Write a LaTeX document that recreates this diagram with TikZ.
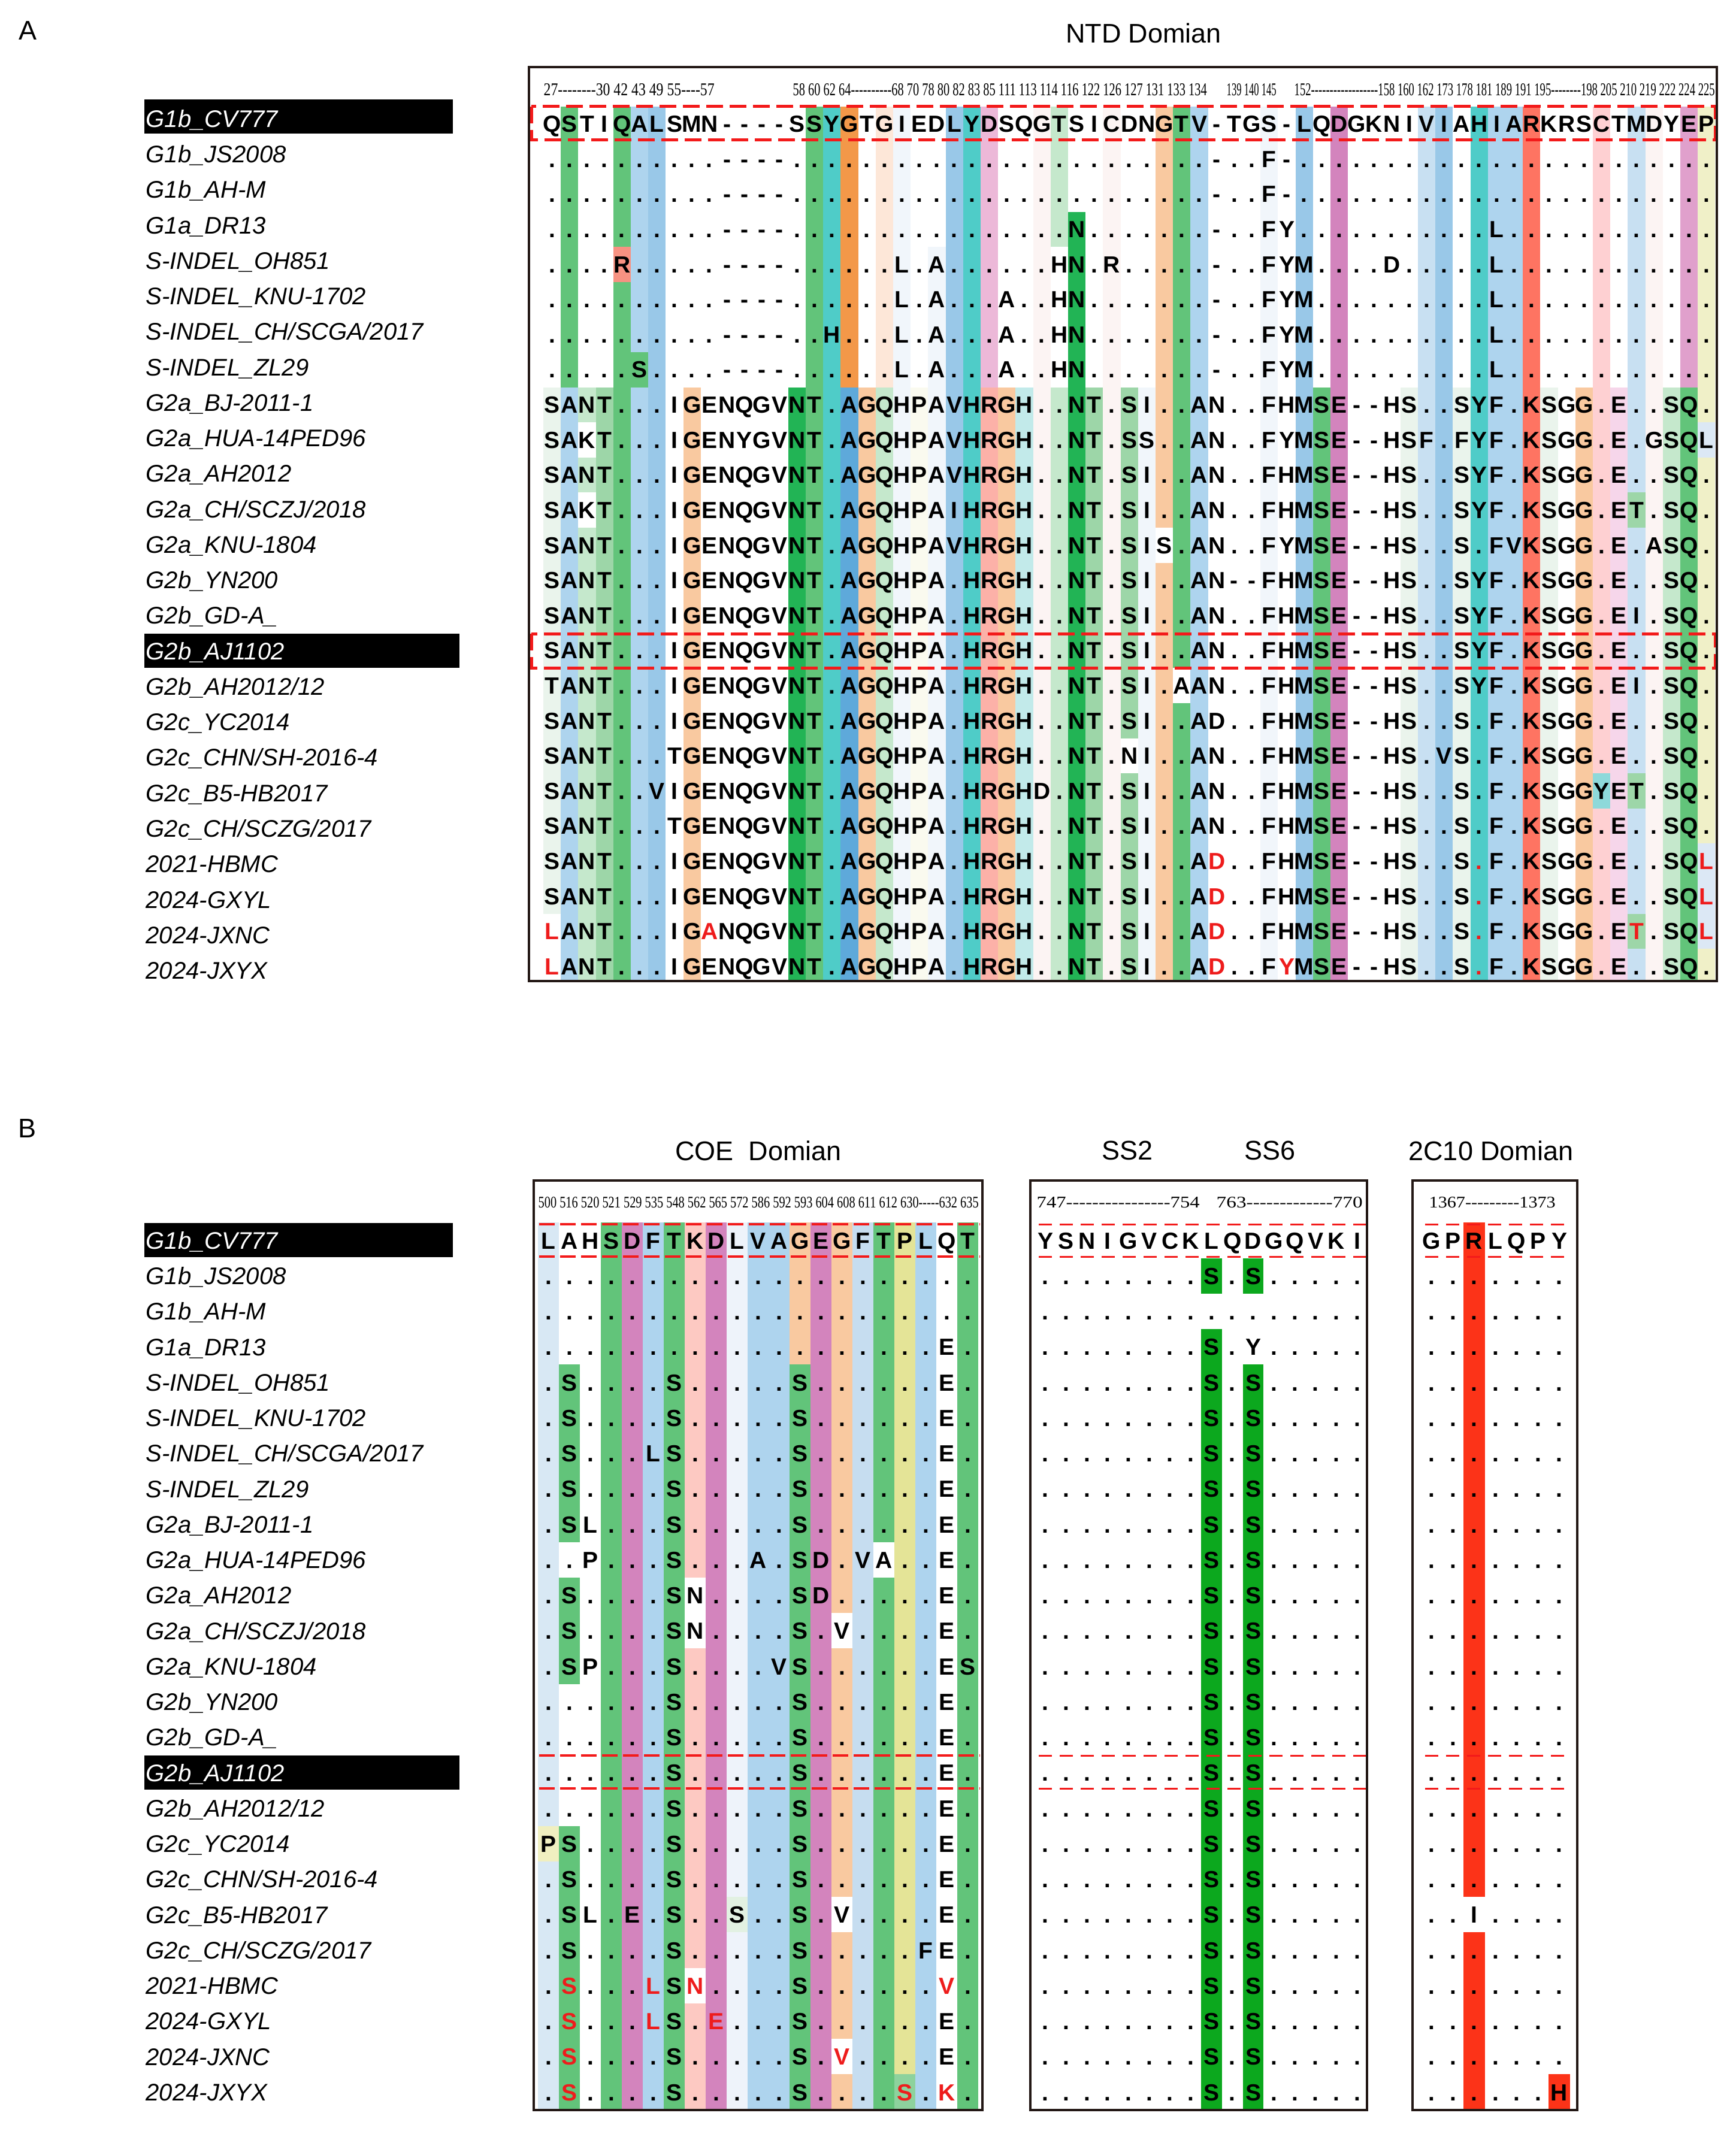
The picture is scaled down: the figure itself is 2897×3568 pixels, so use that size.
\documentclass[tikz,border=0pt]{standalone}
\usepackage{graphicx}
\usepackage{fontspec}
\setmainfont{Liberation Sans}
\newfontfamily\numfont{Liberation Serif}

\definecolor{cGrn}{HTML}{62C47A}
\definecolor{cDg}{HTML}{22B455}
\definecolor{cMg}{HTML}{9DD6A8}
\definecolor{cLg}{HTML}{C5E8CC}
\definecolor{cPg}{HTML}{EAF4EC}
\definecolor{cBl}{HTML}{99C8E8}
\definecolor{cLb}{HTML}{AED4EE}
\definecolor{cPb}{HTML}{C8E0F2}
\definecolor{cFb}{HTML}{F1F6FB}
\definecolor{cSb}{HTML}{5EA9DA}
\definecolor{cTl}{HTML}{4FCCC8}
\definecolor{cOr}{HTML}{F39849}
\definecolor{cPc}{HTML}{F9C9A0}
\definecolor{cLp}{HTML}{FDE7D8}
\definecolor{cPk}{HTML}{ECB8D8}
\definecolor{cMb}{HTML}{D384BD}
\definecolor{cSa}{HTML}{FCB1A8}
\definecolor{cRo}{HTML}{FED0D2}
\definecolor{cCo}{HTML}{FE7462}
\definecolor{cLc}{HTML}{C2EAEA}
\definecolor{cYe}{HTML}{F0F0C8}
\definecolor{cFp}{HTML}{FCF4F3}
\definecolor{cSr}{HTML}{F79282}
\definecolor{cTq}{HTML}{8ED9DA}
\definecolor{cLk}{HTML}{F6D6EA}
\definecolor{cMp}{HTML}{E0A0CC}
\definecolor{cLy}{HTML}{DCE8F5}
\definecolor{cFy}{HTML}{FAFAEF}
\definecolor{cB1}{HTML}{D8E8F4}
\definecolor{cBy}{HTML}{F0EFC0}
\definecolor{cBk}{HTML}{FDC9C2}
\definecolor{cBf}{HTML}{EEF3FA}
\definecolor{cBg}{HTML}{E2F1E2}
\definecolor{cBp}{HTML}{C6DDF0}
\definecolor{cBw}{HTML}{E4E497}
\definecolor{cBm}{HTML}{8DD29D}
\definecolor{cSs}{HTML}{0CA81E}
\definecolor{cRb}{HTML}{FC3318}
\definecolor{cTxt}{HTML}{EE1C1C}
\definecolor{cDash}{HTML}{F31A1A}
\definecolor{cLine}{HTML}{231815}

\newlength\pxu
\setlength\pxu{0.1mm}
\newcommand\resfont{\fontsize{11.1pt}{13pt}\selectfont\bfseries}
\newcommand\labfont{\fontsize{11.4pt}{13pt}\selectfont\itshape}
\newcommand\ttlfont{\fontsize{12.8pt}{15pt}\selectfont}

\makeatletter
\newcommand\resput[1]{\ifnum`#1>96 \textcolor{cTxt}{\uppercase{#1}}\else\ifx*#1\textcolor{cTxt}{.}\else#1\fi\fi}
\newcommand\seqrow[5]{%
  \def\seqx{#2}\def\seqk{0}%
  \@tfor\seqch:=#5\do{%
    \pgfmathtruncatemacro\seqk{\seqk+1}%
    \node[res] (#1c\seqk) at (\seqx,#4) {\expandafter\resput\seqch};%
    \pgfmathsetmacro\seqx{\seqx+#3}}}
\makeatother
\newcommand\arow[2]{\pgfmathsetmacro\yy{220.8+58.6*(#1-1)}\seqrow{a#1}{921.6}{29.2}{\yy}{#2}}
\newcommand\brow[4]{\pgfmathsetmacro\yy{2085+59.25*(#1-1)}%
  \seqrow{bc#1}{915.5}{35}{\yy}{#2}%
  \seqrow{bs#1}{1745}{34.7}{\yy}{#3}%
  \seqrow{bt#1}{2390}{35.5}{\yy}{#4}}

\begin{document}
\begin{tikzpicture}[x=0.1mm,y=-0.1mm,
  res/.style={anchor=base,inner sep=0pt,font=\resfont},
  lab/.style={anchor=base west,inner sep=0pt,font=\labfont},
  hdr/.style={anchor=base west,inner sep=0pt,font=\numfont},
  ttl/.style={inner sep=0pt,font=\ttlfont},
  frame/.style={draw=cLine,line width=0.4mm},
  cutA/.style={draw=cDash,line width=0.5mm,dash pattern=on 2.8mm off 1.1mm},
  cutB/.style={draw=cDash,line width=0.45mm,dash pattern=on 2.6mm off 0.9mm},
  cutC/.style={draw=cDash,line width=0.3mm,dash pattern=on 2.2mm off 1.3mm}]
	\useasboundingbox (0,0) rectangle (2897,3568);
	\fill[white] (0,0) rectangle (2897,3568);

	\node[ttl] (pA) at (47,51) {A};
	\node[ttl] (pB) at (46,1884) {B};
	\node[ttl] (tNTD) at (1909,55) {NTD Domian};
	\node[ttl] (tCOE) at (1266,1921) {COE~ Domian};
	\node[ttl] (tSS2) at (1882,1921) {SS2};
	\node[ttl] (tSS6) at (2120,1921) {SS6};
	\node[ttl] (t2C) at (2489,1921) {2C10 Domian};

	% NTD panel
	\begin{scope}
	\clip (883,112) rectangle (2866,1638);
	\foreach \c/\a/\b/\f in {1/9/23/cPg, 2/1/8/cGrn, 2/9/25/cLb, 3/9/9/cLg, 3/11/11/cLg, 3/13/25/cLg,
		4/9/25/cMg, 5/1/4/cGrn, 5/5/5/cSr, 5/6/25/cGrn, 6/1/7/cLb, 6/8/8/cGrn, 6/9/25/cLb,
		7/1/25/cBl, 9/9/25/cPc, 15/9/25/cDg, 16/1/25/cGrn, 17/1/25/cTl, 18/1/8/cOr, 18/9/25/cSb,
		19/9/25/cPc, 20/1/8/cLp, 20/9/25/cLg, 21/1/25/cFb, 22/9/25/cFy, 23/5/25/cFb,
		24/1/25/cBl, 25/1/25/cTl, 26/1/8/cPk, 26/9/25/cSa, 27/9/25/cPc, 28/9/25/cLc,
		29/1/25/cFp, 30/1/4/cLg, 30/9/25/cLg, 31/4/25/cDg, 32/9/25/cMg, 33/1/25/cFp,
		34/9/18/cMg, 34/20/25/cMg, 35/9/25/cFb, 36/1/12/cPc, 36/14/25/cPc,
		37/1/16/cGrn, 37/18/25/cGrn, 38/1/25/cLb, 42/1/25/cFb, 44/1/25/cBl, 45/9/25/cGrn,
		46/1/25/cMb, 50/9/25/cPg, 51/1/25/cPb, 52/1/25/cBl, 53/9/25/cPg, 54/1/25/cTl,
		55/1/25/cLb, 56/1/25/cLb, 57/1/25/cCo, 58/9/25/cPg, 60/9/25/cPc,
		61/1/19/cRo, 61/20/20/cTq, 61/21/25/cRo, 62/9/25/cLk,
		63/1/11/cPb, 63/12/12/cMg, 63/13/19/cPb, 63/20/20/cMg, 63/21/23/cPb, 63/24/24/cMg, 63/25/25/cPb,
		64/1/25/cFp, 65/9/25/cLg, 66/1/8/cMp, 66/9/25/cGrn,
		67/1/9/cYe, 67/10/10/cLy, 67/11/21/cYe, 67/22/24/cLy, 67/25/25/cYe}
	{
		\fill[fill=\f] ({907+29.2*(\c-1)},{177.8+58.6*(\a-1)}) rectangle ({907+29.2*\c},{177.8+58.6*\b});
	}
	\end{scope}
	\draw[cutA] (887,178) rectangle (2863,234);
	\draw[cutA] (887,1058) rectangle (2863,1115);
	\draw[frame] (883,112) rectangle (2866,1638);

	\node[hdr] (hA1) at (907,160) {\resizebox{285\pxu}{20\pxu}{27--------30 42 43 49 55----57}};
	\node[hdr] (hA2) at (1323,160) {\resizebox{691\pxu}{20\pxu}{58 60 62 64----------68 70 78 80 82 83 85 111 113 114 116 122 126 127 131 133 134}};
	\node[hdr] (hA3) at (2047,160) {\resizebox{83\pxu}{20\pxu}{139 140 145}};
	\node[hdr] (hA4) at (2160,160) {\resizebox{702\pxu}{20\pxu}{152------------------158 160 162 173 178 181 189 191 195--------198 205 210 219 222 224 225}};

	\arow{1}{QSTIQALSMN----SSYGTGIEDLYDSQGTSICDNGTV-TGS-LQDGKNIVIAHIARKRSCTMDYEP}
	\arow{2}{..........----........................-..F-........................}
	\arow{3}{..........----........................-..F-........................}
	\arow{4}{..........----................N.......-..FY...........L............}
	\arow{5}{....R.....----......L.A......HN.R.....-..FYM....D.....L............}
	\arow{6}{..........----......L.A...A..HN.......-..FYM..........L............}
	\arow{7}{..........----..H...L.A...A..HN.......-..FYM..........L............}
	\arow{8}{.....S....----......L.A...A..HN.......-..FYM..........L............}
	\arow{9}{SANT...IGENQGVNT.AGQHPAVHRGH..NT.SI..AN..FHMSE--HS..SYF.KSGG.E..SQ.}
	\arow{10}{SAKT...IGENYGVNT.AGQHPAVHRGH..NT.SS..AN..FYMSE--HSF.FYF.KSGG.E.GSQL}
	\arow{11}{SANT...IGENQGVNT.AGQHPAVHRGH..NT.SI..AN..FHMSE--HS..SYF.KSGG.E..SQ.}
	\arow{12}{SAKT...IGENQGVNT.AGQHPAIHRGH..NT.SI..AN..FHMSE--HS..SYF.KSGG.ET.SQ.}
	\arow{13}{SANT...IGENQGVNT.AGQHPAVHRGH..NT.SIS.AN..FYMSE--HS..S.FVKSGG.E.ASQ.}
	\arow{14}{SANT...IGENQGVNT.AGQHPA.HRGH..NT.SI..AN--FHMSE--HS..SYF.KSGG.E..SQ.}
	\arow{15}{SANT...IGENQGVNT.AGQHPA.HRGH..NT.SI..AN..FHMSE--HS..SYF.KSGG.EI.SQ.}
	\arow{16}{SANT...IGENQGVNT.AGQHPA.HRGH..NT.SI..AN..FHMSE--HS..SYF.KSGG.E..SQ.}
	\arow{17}{TANT...IGENQGVNT.AGQHPA.HRGH..NT.SI.AAN..FHMSE--HS..SYF.KSGG.EI.SQ.}
	\arow{18}{SANT...IGENQGVNT.AGQHPA.HRGH..NT.SI..AD..FHMSE--HS..S.F.KSGG.E..SQ.}
	\arow{19}{SANT...TGENQGVNT.AGQHPA.HRGH..NT.NI..AN..FHMSE--HS.VS.F.KSGG.E..SQ.}
	\arow{20}{SANT..VIGENQGVNT.AGQHPA.HRGHD.NT.SI..AN..FHMSE--HS..S.F.KSGGYET.SQ.}
	\arow{21}{SANT...TGENQGVNT.AGQHPA.HRGH..NT.SI..AN..FHMSE--HS..S.F.KSGG.E..SQ.}
	\arow{22}{SANT...IGENQGVNT.AGQHPA.HRGH..NT.SI..Ad..FHMSE--HS..S*F.KSGG.E..SQl}
	\arow{23}{SANT...IGENQGVNT.AGQHPA.HRGH..NT.SI..Ad..FHMSE--HS..S*F.KSGG.E..SQl}
	\arow{24}{lANT...IGaNQGVNT.AGQHPA.HRGH..NT.SI..Ad..FHMSE--HS..S*F.KSGG.Et.SQl}
	\arow{25}{lANT...IGENQGVNT.AGQHPA.HRGH..NT.SI..Ad..FyMSE--HS..S*F.KSGG.E..SQ.}

	% strain names
	\fill[black] (241,166) rectangle (756,223);
	\fill[black] (241,1058) rectangle (767,1115);
	\fill[black] (241,2042) rectangle (756,2099);
	\fill[black] (241,2931) rectangle (767,2988);
	\foreach \lab [count=\i] in {{\textcolor{white}{G1b\_CV777}}, G1b\_JS2008, G1b\_AH-M, G1a\_DR13,
		S-INDEL\_OH851, S-INDEL\_KNU-1702, S-INDEL\_CH/SCGA/2017, S-INDEL\_ZL29, G2a\_BJ-2011-1,
		G2a\_HUA-14PED96, G2a\_AH2012, G2a\_CH/SCZJ/2018, G2a\_KNU-1804, G2b\_YN200, G2b\_GD-A\_,
		{\textcolor{white}{G2b\_AJ1102}}, G2b\_AH2012/12, G2c\_YC2014, G2c\_CHN/SH-2016-4,
		G2c\_B5-HB2017, G2c\_CH/SCZG/2017, 2021-HBMC, 2024-GXYL, 2024-JXNC, 2024-JXYX}
	{
		\node[lab] (la\i) at (243,{212.3+59.26*(\i-1)}) {\lab};
		\node[lab] (lb\i) at (243,{2085.3+59.25*(\i-1)}) {\lab};
	}

	% COE, SS and 2C10 panels
	\begin{scope}
	\clip (891,1971) rectangle (1640,3523);
	\foreach \c/\a/\b/\f in {1/1/17/cB1, 1/18/18/cBy, 1/19/25/cB1, 2/5/9/cGrn, 2/11/13/cGrn, 2/18/25/cGrn,
		4/1/25/cGrn, 5/1/25/cMb, 6/1/25/cLb, 7/1/25/cGrn, 8/1/10/cBk, 8/13/21/cBk, 8/23/25/cBk,
		9/1/25/cMb, 10/1/19/cBf, 10/20/20/cBg, 10/21/25/cBf, 11/1/25/cLb, 12/1/25/cLb,
		13/1/4/cPc, 13/5/25/cGrn, 14/1/25/cMb, 15/1/11/cPc, 15/13/19/cPc, 15/21/23/cPc, 15/25/25/cPc,
		16/1/25/cBp, 17/1/9/cGrn, 17/11/25/cGrn, 18/1/24/cBw, 18/25/25/cBm, 19/1/25/cLb, 21/1/25/cGrn}
	{
		\fill[fill=\f] ({898+35*(\c-1)},{2041.4+59.25*(\a-1)}) rectangle ({898+35*\c},{2041.4+59.25*\b});
	}
	\end{scope}
	\foreach \c/\a/\b in {9/2/2, 9/4/25, 11/2/2, 11/5/25}
		\fill[cSs] ({1727.6+34.7*(\c-1)},{2041.4+59.25*(\a-1)}) rectangle ({1727.6+34.7*\c},{2041.4+59.25*\b});
	\foreach \c/\a/\b in {3/1/19, 3/21/25, 7/25/25}
		\fill[cRb] ({2372.2+35.5*(\c-1)},{2041.4+59.25*(\a-1)}) rectangle ({2372.2+35.5*\c},{2041.4+59.25*\b});

	\foreach \y in {2044,2098,2931,2986}
	{
		\draw[cutB] (900,\y) -- (1636,\y);
		\draw[cutC] (1734,\y) -- (2282,\y);
		\draw[cutC] (2379,\y) -- (2620,\y);
	}
	\draw[frame] (891,1971) rectangle (1640,3523);
	\draw[frame] (1720,1971) rectangle (2282,3523);
	\draw[frame] (2358,1971) rectangle (2633,3523);

	\node[hdr] (hB1) at (898,2016) {\resizebox{735\pxu}{18\pxu}{500 516 520 521 529 535 548 562 565 572 586 592 593 604 608 611 612 630-----632 635}};
	\node[hdr] (hB2) at (1730,2016) {\resizebox{272\pxu}{18\pxu}{747----------------754}};
	\node[hdr] (hB3) at (2030,2016) {\resizebox{244\pxu}{18\pxu}{763-------------770}};
	\node[hdr] (hB4) at (2385,2016) {\resizebox{211\pxu}{18\pxu}{1367---------1373}};

	\brow{1}{LAHSDFTKDLVAGEGFTPLQT}{YSNIGVCKLQDGQVKI}{GPRLQPY}
	\brow{2}{.....................}{........S.S.....}{.......}
	\brow{3}{.....................}{................}{.......}
	\brow{4}{...................E.}{........S.Y.....}{.......}
	\brow{5}{.S....S.....S......E.}{........S.S.....}{.......}
	\brow{6}{.S....S.....S......E.}{........S.S.....}{.......}
	\brow{7}{.S...LS.....S......E.}{........S.S.....}{.......}
	\brow{8}{.S....S.....S......E.}{........S.S.....}{.......}
	\brow{9}{.SL...S.....S......E.}{........S.S.....}{.......}
	\brow{10}{..P...S...A.SD.VA..E.}{........S.S.....}{.......}
	\brow{11}{.S....SN....SD.....E.}{........S.S.....}{.......}
	\brow{12}{.S....SN....S.V....E.}{........S.S.....}{.......}
	\brow{13}{.SP...S....VS......ES}{........S.S.....}{.......}
	\brow{14}{......S.....S......E.}{........S.S.....}{.......}
	\brow{15}{......S.....S......E.}{........S.S.....}{.......}
	\brow{16}{......S.....S......E.}{........S.S.....}{.......}
	\brow{17}{......S.....S......E.}{........S.S.....}{.......}
	\brow{18}{PS....S.....S......E.}{........S.S.....}{.......}
	\brow{19}{.S....S.....S......E.}{........S.S.....}{.......}
	\brow{20}{.SL.E.S..S..S.V....E.}{........S.S.....}{..I....}
	\brow{21}{.S....S.....S.....FE.}{........S.S.....}{.......}
	\brow{22}{.s...lSn....S......v.}{........S.S.....}{.......}
	\brow{23}{.s...lS.e...S......E.}{........S.S.....}{.......}
	\brow{24}{.s....S.....S.v....E.}{........S.S.....}{.......}
	\brow{25}{.s....S.....S....s.k.}{........S.S.....}{......H}
\end{tikzpicture}
\end{document}
